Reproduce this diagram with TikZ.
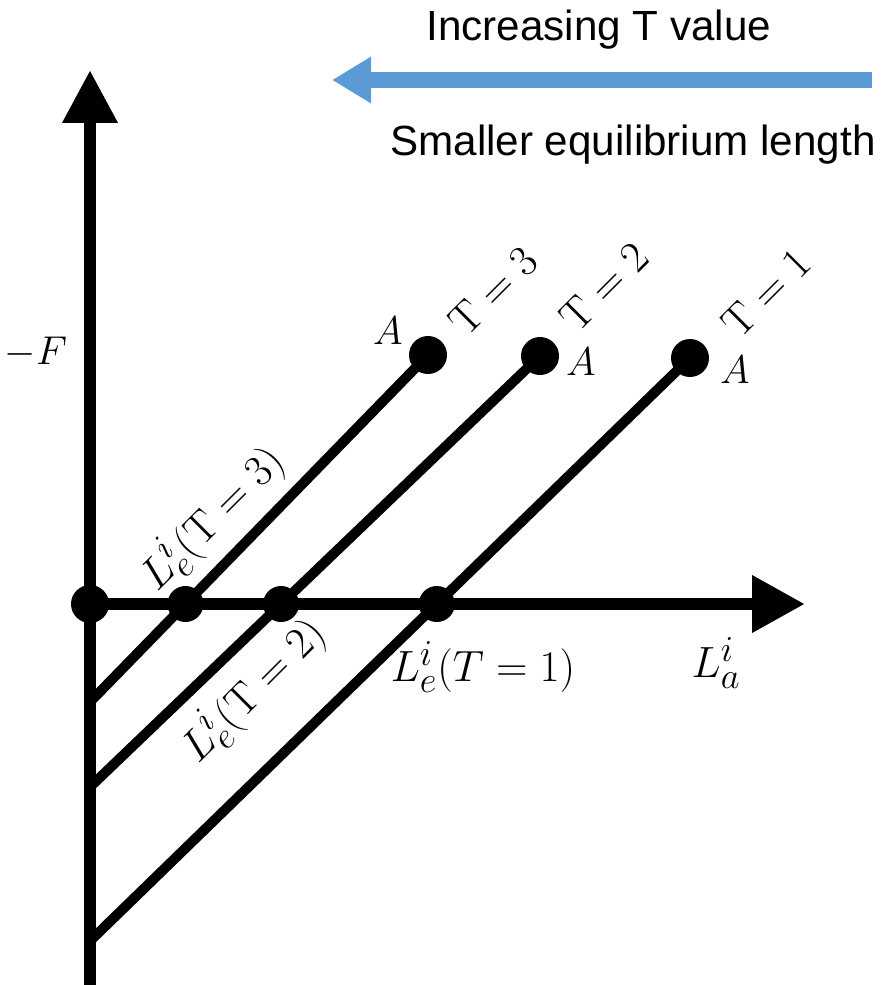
\documentclass[tikz,border=0pt]{standalone}
\usepackage{fontspec}
\newfontfamily\arialfont{Liberation Sans}
\usetikzlibrary{arrows.meta, calc}
\definecolor{arrowblue}{RGB}{91,155,213}

\begin{document}
\begin{tikzpicture}[x=0.025cm, y=-0.025cm]
    \useasboundingbox (0,0) rectangle (882,985);
    \tikzset{
        dot/.style={circle, fill, inner sep=0pt, minimum size=0.95cm},
        bigmath/.style={font=\fontsize{24.88}{27}\selectfont, inner sep=0pt, scale=1.25},
        tmath/.style={font=\fontsize{24.88}{27}\selectfont, inner sep=0pt, scale=1.25},
        amath/.style={font=\fontsize{24.88}{27}\selectfont, inner sep=0pt, scale=1.15},
        toptext/.style={font=\arialfont\fontsize{30}{32}\selectfont, anchor=base}
    }
    % axes
    \coordinate (O) at (90,604);
    \coordinate (Ybot) at (90,985);
    \coordinate (Ytop) at (90,70);
    \coordinate (Xend) at (805,604);
    \draw[line width=8.9pt, -{Triangle[length=1.32cm, width=1.3cm]}] (Ybot) -- (Ytop);
    \draw[line width=8.9pt, -{Triangle[length=1.32cm, width=1.35cm]}] (O) -- (Xend);
    \foreach \t/\ax/\ay/\by in {1/690/358/941, 2/540/356/787, 3/428/355/702} {
        \node[dot] (A\t) at (\ax,\ay) {};
        \coordinate (B\t) at (90,\by);
        \draw[line width=7.1pt] (B\t) -- (A\t.center);
        \node[dot, minimum size=0.9cm] (E\t) at ($(B\t)!{(\by-604)/(\by-\ay)}!(A\t.center)$) {};
    }
    \node[dot] (Odot) at (O) {};
    % labels
    \node[bigmath, scale=0.92] (F) at (36,352) {$-F$};
    \node[bigmath] (La) at (716,663) {$L_a^i$};
    \node[bigmath] (Le1) at (483,667) {$L_e^i(T=1)$};
    \node[bigmath, rotate=45] (Le2) at (253,690) {$L_e^i(\mathrm{T}=2)$};
    \node[bigmath, rotate=45] (Le3) at (212,518) {$L_e^i(\mathrm{T}=3)$};
    \node[amath] (A1lab) at (735,370) {$A$};
    \node[amath] (A2lab) at (581,362) {$A$};
    \node[amath] (A3lab) at (388,331) {$A$};
    \node[tmath, rotate=45] (T1) at (766,293) {$\mathrm{T}=1$};
    \node[tmath, rotate=45] (T2) at (604,287) {$\mathrm{T}=2$};
    \node[tmath, rotate=45] (T3) at (493,291) {$\mathrm{T}=3$};
    % direction arrow
    \node[toptext] (inc) at (599,41) {Increasing T value};
    \node[toptext] (small) at (633,156) {Smaller equilibrium length};
    \coordinate (arrR) at (872,80);
    \coordinate (arrL) at (332,80);
    \draw[arrowblue, line width=10.7pt, -{Triangle[length=0.98cm, width=1.1cm]}] (arrR) -- (arrL);
\end{tikzpicture}
\end{document}
